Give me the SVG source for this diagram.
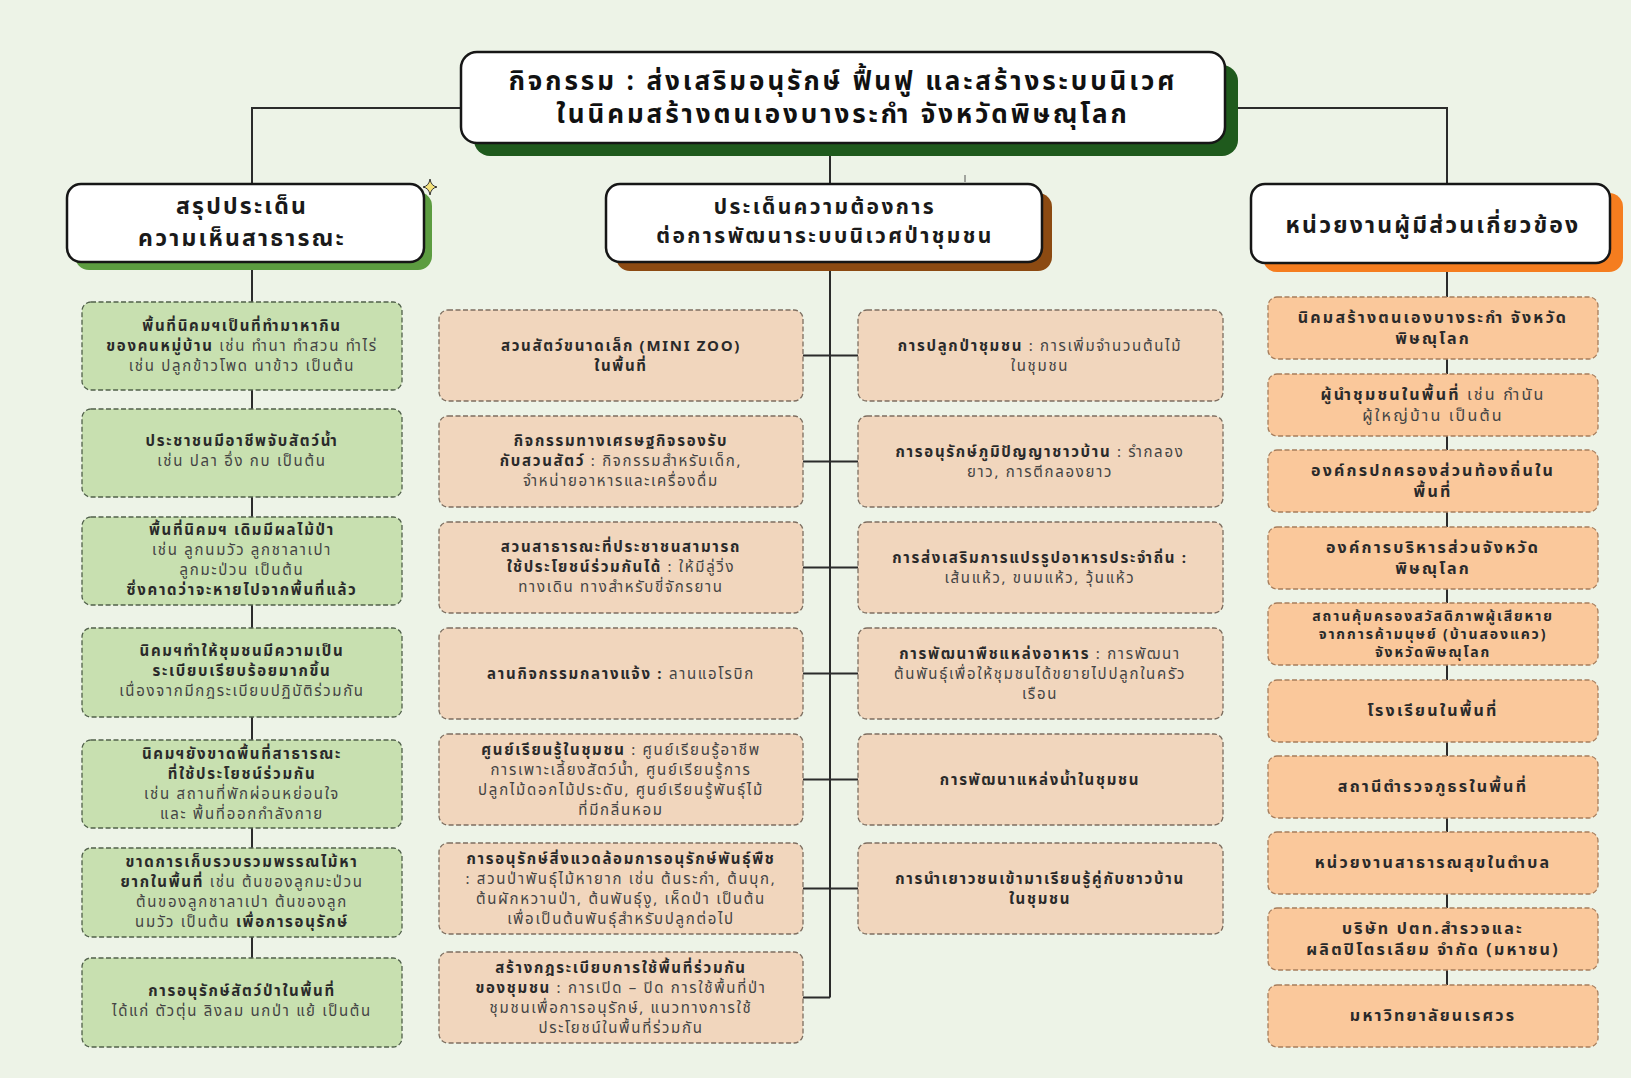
<svg xmlns="http://www.w3.org/2000/svg" width="1631" height="1078" viewBox="0 0 1631 1078">
<style>
text{font-family:"Noto Sans Thai","Noto Sans","DejaVu Sans",sans-serif;text-anchor:middle}
.t{font-size:26px;font-weight:700;fill:#111;letter-spacing:2.9px}
.h{font-size:23px;font-weight:700;fill:#1a1a1a;letter-spacing:2.2px}
.hm{font-size:21px;font-weight:700;fill:#1a1a1a;letter-spacing:2.4px}
.s{font-size:15px;letter-spacing:1.7px}
.sr{font-size:16px;letter-spacing:2.2px}
.ss{font-size:14px;letter-spacing:1.9px}
.b{font-weight:700;fill:#2a2a2a}
.r{font-weight:400;fill:#444}
.hb{fill:#fff;stroke:#161616;stroke-width:2.5}
.g{fill:#c8e0b0;stroke:#50604a;stroke-width:1.3;stroke-dasharray:5 2.5}
.p{fill:#f1d6bd;stroke:#7d6e60;stroke-width:1.3;stroke-dasharray:5 2.5}
.o{fill:#fac89b;stroke:#a67d5c;stroke-width:1.3;stroke-dasharray:5 2.5}
.c{fill:none;stroke:#2b2b2b;stroke-width:2}
</style>
<rect width="1631" height="1078" fill="#edf3e7"/>

<g id="connectors">
<path class="c" d="M461 108H252V184"/>
<path class="c" d="M1225 108H1447V185"/>
<path class="c" d="M830 143V184"/>
<path class="c" d="M252 262V958"/>
<path class="c" d="M830 262V997.5"/>
<path class="c" d="M803 355.5H858M803 461.5H858M803 567.5H858M803 673.5H858M803 779.5H858M803 888.5H858M803 997.5H830"/>
<path class="c" d="M1447 263V985"/>
<path d="M965 175V182" stroke="#555" stroke-width="1"/>
</g>

<g id="title">
<rect x="474" y="65" width="764" height="91" rx="16" fill="#1f5a1d"/>
<rect class="hb" x="461" y="52" width="764" height="91" rx="16"/>
<text class="t" x="843" y="90">กิจกรรม : ส่งเสริมอนุรักษ์ ฟื้นฟู และสร้างระบบนิเวศ<tspan x="843" dy="33">ในนิคมสร้างตนเองบางระกำ จังหวัดพิษณุโลก</tspan></text>
</g>

<g id="header-left">
<rect x="75" y="192" width="357" height="78" rx="14" fill="#5c9c40"/>
<rect class="hb" x="67" y="184" width="357" height="78" rx="14"/>
<text class="h" x="242" y="214">สรุปประเด็น</text>
<text class="h" x="242" y="246">ความเห็นสาธารณะ</text>
<path d="M430 179 Q431 186 437 187 Q431 188 430 195 Q429 188 423 187 Q429 186 430 179Z" fill="#f4e27a" stroke="#333" stroke-width="1"/>
</g>

<g id="header-mid">
<rect x="616" y="193" width="436" height="78" rx="14" fill="#8c4a12"/>
<rect class="hb" x="606" y="184" width="436" height="78" rx="14"/>
<text class="hm" x="825" y="214">ประเด็นความต้องการ</text>
<text class="hm" x="825" y="243">ต่อการพัฒนาระบบนิเวศป่าชุมชน</text>
</g>

<g id="header-right">
<rect x="1263" y="193" width="360" height="79" rx="14" fill="#f57d1f"/>
<rect class="hb" x="1251" y="184" width="359" height="79" rx="14"/>
<text class="h" x="1433" y="233">หน่วยงานผู้มีส่วนเกี่ยวข้อง</text>
</g>

<g id="left-1"><rect class="g" x="82" y="302" width="320" height="88" rx="9"/>
<text class="s" x="242" y="331"><tspan class="b">พื้นที่นิคมฯเป็นที่ทำมาหากิน</tspan></text>
<text class="s" x="242" y="351"><tspan class="b">ของคนหมู่บ้าน</tspan><tspan class="r"> เช่น ทำนา ทำสวน ทำไร่</tspan></text>
<text class="s" x="242" y="371"><tspan class="r">เช่น ปลูกข้าวโพด นาข้าว เป็นต้น</tspan></text></g>

<g id="left-2"><rect class="g" x="82" y="409" width="320" height="88" rx="9"/>
<text class="s" x="242" y="446"><tspan class="b">ประชาชนมีอาชีพจับสัตว์น้ำ</tspan></text>
<text class="s" x="242" y="466"><tspan class="r">เช่น ปลา อึ่ง กบ เป็นต้น</tspan></text></g>

<g id="left-3"><rect class="g" x="82" y="517" width="320" height="88" rx="9"/>
<text class="s" x="242" y="535"><tspan class="b">พื้นที่นิคมฯ เดิมมีผลไม้ป่า</tspan></text>
<text class="s" x="242" y="555"><tspan class="r">เช่น ลูกนมวัว ลูกชาลาเปา</tspan></text>
<text class="s" x="242" y="575"><tspan class="r">ลูกมะป่วน เป็นต้น</tspan></text>
<text class="s" x="242" y="595"><tspan class="b">ซึ่งคาดว่าจะหายไปจากพื้นที่แล้ว</tspan></text></g>

<g id="left-4"><rect class="g" x="82" y="628" width="320" height="89" rx="9"/>
<text class="s" x="242" y="656"><tspan class="b">นิคมฯทำให้ชุมชนมีความเป็น</tspan></text>
<text class="s" x="242" y="676"><tspan class="b">ระเบียบเรียบร้อยมากขึ้น</tspan></text>
<text class="s" x="242" y="696"><tspan class="r">เนื่องจากมีกฎระเบียบปฏิบัติร่วมกัน</tspan></text></g>

<g id="left-5"><rect class="g" x="82" y="740" width="320" height="88" rx="9"/>
<text class="s" x="242" y="759"><tspan class="b">นิคมฯยังขาดพื้นที่สาธารณะ</tspan></text>
<text class="s" x="242" y="779"><tspan class="b">ที่ใช้ประโยชน์ร่วมกัน</tspan></text>
<text class="s" x="242" y="799"><tspan class="r">เช่น สถานที่พักผ่อนหย่อนใจ</tspan></text>
<text class="s" x="242" y="819"><tspan class="r">และ พื้นที่ออกกำลังกาย</tspan></text></g>

<g id="left-6"><rect class="g" x="82" y="848" width="320" height="89" rx="9"/>
<text class="s" x="242" y="867"><tspan class="b">ขาดการเก็บรวบรวมพรรณไม้หา</tspan></text>
<text class="s" x="242" y="887"><tspan class="b">ยากในพื้นที่</tspan><tspan class="r"> เช่น ต้นของลูกมะป่วน</tspan></text>
<text class="s" x="242" y="907"><tspan class="r">ต้นของลูกชาลาเปา ต้นของลูก</tspan></text>
<text class="s" x="242" y="927"><tspan class="r">นมวัว เป็นต้น </tspan><tspan class="b">เพื่อการอนุรักษ์</tspan></text></g>

<g id="left-7"><rect class="g" x="82" y="958" width="320" height="89" rx="9"/>
<text class="s" x="242" y="996"><tspan class="b">การอนุรักษ์สัตว์ป่าในพื้นที่</tspan></text>
<text class="s" x="242" y="1016"><tspan class="r">ได้แก่ ตัวตุ่น ลิงลม นกป่า แย้ เป็นต้น</tspan></text></g>

<g id="need-1"><rect class="p" x="439" y="310" width="364" height="91" rx="9"/>
<text class="s" x="621" y="351"><tspan class="b">สวนสัตว์ขนาดเล็ก (MINI ZOO)</tspan></text>
<text class="s" x="621" y="371"><tspan class="b">ในพื้นที่</tspan></text></g>

<g id="need-2"><rect class="p" x="439" y="416" width="364" height="91" rx="9"/>
<text class="s" x="621" y="446"><tspan class="b">กิจกรรมทางเศรษฐกิจรองรับ</tspan></text>
<text class="s" x="621" y="466"><tspan class="b">กับสวนสัตว์</tspan><tspan class="r"> : กิจกรรมสำหรับเด็ก,</tspan></text>
<text class="s" x="621" y="486"><tspan class="r">จำหน่ายอาหารและเครื่องดื่ม</tspan></text></g>

<g id="need-3"><rect class="p" x="439" y="522" width="364" height="91" rx="9"/>
<text class="s" x="621" y="552"><tspan class="b">สวนสาธารณะที่ประชาชนสามารถ</tspan></text>
<text class="s" x="621" y="572"><tspan class="b">ใช้ประโยชน์ร่วมกันได้</tspan><tspan class="r">  : ให้มีลู่วิ่ง</tspan></text>
<text class="s" x="621" y="592"><tspan class="r">ทางเดิน ทางสำหรับขี่จักรยาน</tspan></text></g>

<g id="need-4"><rect class="p" x="439" y="628" width="364" height="91" rx="9"/>
<text class="s" x="621" y="679"><tspan class="b">ลานกิจกรรมกลางแจ้ง :</tspan><tspan class="r"> ลานแอโรบิก</tspan></text></g>

<g id="need-5"><rect class="p" x="439" y="734" width="364" height="91" rx="9"/>
<text class="s" x="621" y="755"><tspan class="b">ศูนย์เรียนรู้ในชุมชน</tspan><tspan class="r"> : ศูนย์เรียนรู้อาชีพ</tspan></text>
<text class="s" x="621" y="775"><tspan class="r">การเพาะเลี้ยงสัตว์น้ำ, ศูนย์เรียนรู้การ</tspan></text>
<text class="s" x="621" y="795"><tspan class="r">ปลูกไม้ดอกไม้ประดับ, ศูนย์เรียนรู้พันธุ์ไม้</tspan></text>
<text class="s" x="621" y="815"><tspan class="r">ที่มีกลิ่นหอม</tspan></text></g>

<g id="need-6"><rect class="p" x="439" y="843" width="364" height="91" rx="9"/>
<text class="s" x="621" y="864"><tspan class="b">การอนุรักษ์สิ่งแวดล้อมการอนุรักษ์พันธุ์พืช</tspan></text>
<text class="s" x="621" y="884"><tspan class="r">: สวนป่าพันธุ์ไม้หายาก เช่น ต้นระกำ, ต้นบุก,</tspan></text>
<text class="s" x="621" y="904"><tspan class="r">ต้นผักหวานป่า, ต้นพันธุ์งู, เห็ดป่า เป็นต้น</tspan></text>
<text class="s" x="621" y="924"><tspan class="r">เพื่อเป็นต้นพันธุ์สำหรับปลูกต่อไป</tspan></text></g>

<g id="need-7"><rect class="p" x="439" y="952" width="364" height="91" rx="9"/>
<text class="s" x="621" y="973"><tspan class="b">สร้างกฎระเบียบการใช้พื้นที่ร่วมกัน</tspan></text>
<text class="s" x="621" y="993"><tspan class="b">ของชุมชน</tspan><tspan class="r"> : การเปิด – ปิด การใช้พื้นที่ป่า</tspan></text>
<text class="s" x="621" y="1013"><tspan class="r">ชุมชนเพื่อการอนุรักษ์, แนวทางการใช้</tspan></text>
<text class="s" x="621" y="1033"><tspan class="r">ประโยชน์ในพื้นที่ร่วมกัน</tspan></text></g>

<g id="need-8"><rect class="p" x="858" y="310" width="365" height="91" rx="9"/>
<text class="s" x="1040" y="351"><tspan class="b">การปลูกป่าชุมชน</tspan><tspan class="r"> : การเพิ่มจำนวนต้นไม้</tspan></text>
<text class="s" x="1040" y="371"><tspan class="r">ในชุมชน</tspan></text></g>

<g id="need-9"><rect class="p" x="858" y="416" width="365" height="91" rx="9"/>
<text class="s" x="1040" y="457"><tspan class="b">การอนุรักษ์ภูมิปัญญาชาวบ้าน</tspan><tspan class="r"> : รำกลอง</tspan></text>
<text class="s" x="1040" y="477"><tspan class="r">ยาว, การตีกลองยาว</tspan></text></g>

<g id="need-10"><rect class="p" x="858" y="522" width="365" height="91" rx="9"/>
<text class="s" x="1040" y="563"><tspan class="b">การส่งเสริมการแปรรูปอาหารประจำถิ่น :</tspan></text>
<text class="s" x="1040" y="583"><tspan class="r">เส้นแห้ว, ขนมแห้ว, วุ้นแห้ว</tspan></text></g>

<g id="need-11"><rect class="p" x="858" y="628" width="365" height="91" rx="9"/>
<text class="s" x="1040" y="659"><tspan class="b">การพัฒนาพืชแหล่งอาหาร</tspan><tspan class="r"> : การพัฒนา</tspan></text>
<text class="s" x="1040" y="679"><tspan class="r">ต้นพันธุ์เพื่อให้ชุมชนได้ขยายไปปลูกในครัว</tspan></text>
<text class="s" x="1040" y="699"><tspan class="r">เรือน</tspan></text></g>

<g id="need-12"><rect class="p" x="858" y="734" width="365" height="91" rx="9"/>
<text class="s" x="1040" y="785"><tspan class="b">การพัฒนาแหล่งน้ำในชุมชน</tspan></text></g>

<g id="need-13"><rect class="p" x="858" y="843" width="365" height="91" rx="9"/>
<text class="s" x="1040" y="884"><tspan class="b">การนำเยาวชนเข้ามาเรียนรู้คู่กับชาวบ้าน</tspan></text>
<text class="s" x="1040" y="904"><tspan class="b">ในชุมชน</tspan></text></g>

<g id="org-1"><rect class="o" x="1268" y="297" width="330" height="62" rx="9"/>
<text class="sr" x="1433" y="323"><tspan class="b">นิคมสร้างตนเองบางระกำ จังหวัด</tspan></text>
<text class="sr" x="1433" y="344"><tspan class="b">พิษณุโลก</tspan></text></g>

<g id="org-2"><rect class="o" x="1268" y="374" width="330" height="62" rx="9"/>
<text class="sr" x="1433" y="400"><tspan class="b">ผู้นำชุมชนในพื้นที่</tspan><tspan class="r">  เช่น กำนัน</tspan></text>
<text class="sr" x="1433" y="421"><tspan class="r">ผู้ใหญ่บ้าน เป็นต้น</tspan></text></g>

<g id="org-3"><rect class="o" x="1268" y="450" width="330" height="62" rx="9"/>
<text class="sr" x="1433" y="476"><tspan class="b">องค์กรปกครองส่วนท้องถิ่นใน</tspan></text>
<text class="sr" x="1433" y="497"><tspan class="b">พื้นที่</tspan></text></g>

<g id="org-4"><rect class="o" x="1268" y="527" width="330" height="62" rx="9"/>
<text class="sr" x="1433" y="553"><tspan class="b">องค์การบริหารส่วนจังหวัด</tspan></text>
<text class="sr" x="1433" y="574"><tspan class="b">พิษณุโลก</tspan></text></g>

<g id="org-5"><rect class="o" x="1268" y="603" width="330" height="62" rx="9"/>
<text class="ss" x="1433" y="621"><tspan class="b">สถานคุ้มครองสวัสดิภาพผู้เสียหาย</tspan></text>
<text class="ss" x="1433" y="639"><tspan class="b">จากการค้ามนุษย์ (บ้านสองแคว)</tspan></text>
<text class="ss" x="1433" y="657"><tspan class="b">จังหวัดพิษณุโลก</tspan></text></g>

<g id="org-6"><rect class="o" x="1268" y="680" width="330" height="62" rx="9"/>
<text class="sr" x="1433" y="716"><tspan class="b">โรงเรียนในพื้นที่</tspan></text></g>

<g id="org-7"><rect class="o" x="1268" y="756" width="330" height="62" rx="9"/>
<text class="sr" x="1433" y="792"><tspan class="b">สถานีตำรวจภูธรในพื้นที่</tspan></text></g>

<g id="org-8"><rect class="o" x="1268" y="832" width="330" height="62" rx="9"/>
<text class="sr" x="1433" y="868"><tspan class="b">หน่วยงานสาธารณสุขในตำบล</tspan></text></g>

<g id="org-9"><rect class="o" x="1268" y="908" width="330" height="62" rx="9"/>
<text class="sr" x="1433" y="934"><tspan class="b">บริษัท ปตท.สำรวจและ</tspan></text>
<text class="sr" x="1433" y="955"><tspan class="b">ผลิตปิโตรเลียม จำกัด (มหาชน)</tspan></text></g>

<g id="org-10"><rect class="o" x="1268" y="985" width="330" height="62" rx="9"/>
<text class="sr" x="1433" y="1021"><tspan class="b">มหาวิทยาลัยนเรศวร</tspan></text></g>
</svg>
